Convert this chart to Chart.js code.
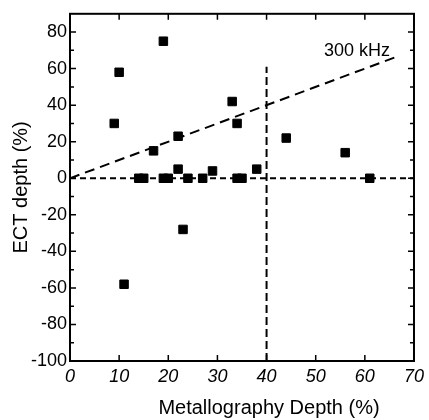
<!DOCTYPE html>
<html>
<head>
<meta charset="utf-8">
<script src="https://cdn.jsdelivr.net/npm/chart.js@4"></script>
<style>
  body { margin: 0; background: #fff; }
  #wrap { width: 429px; height: 420px; }
</style>
</head>
<body>
<div id="wrap"><canvas id="ectChart"></canvas></div>
<script>
// ECT depth vs metallography depth, 300 kHz

const metalDepth = [9, 10, 19, 17, 22, 22, 14, 15, 19, 20, 24, 27, 29, 33, 34, 34, 35, 38, 44, 56, 61, 11, 23];
const ectDepth   = [30, 58, 75, 15, 23, 5, 0, 0, 0, 0, 0, 0, 4, 42, 30, 0, 0, 5, 22, 14, 0, -58, -28];

// reference lines
const fitLineX = [0, 67];
const fitLineY = [0, 67];
const zeroLineX = [0, 70];
const zeroLineY = [0, 0];
const limitLineX = [40, 40];
const limitLineY = [-100, 61];

const xTicks = [0, 10, 20, 30, 40, 50, 60, 70];
const yTicks = [-100, -80, -60, -40, -20, 0, 20, 40, 60, 80];
const yMinorTicks = [-90, -70, -50, -30, -10, 10, 30, 50, 70];

const lineLabel = '300 kHz';
const xTitle = 'Metallography Depth (%)';
const yTitle = 'ECT depth (%)';

const FONT = '"Liberation Sans", Arial, sans-serif';

function toPoints(xs, ys) {
    return xs.map((x, i) => ({ x: x, y: ys[i] }));
}

// frame, inward ticks, line label and x title
const framePlugin = {
    id: 'frame',
    afterDraw(chart) {
        const ctx = chart.ctx;
        const a = chart.chartArea;
        const xs = chart.scales.x, ys = chart.scales.y;
        ctx.save();
        ctx.strokeStyle = '#000';
        ctx.lineWidth = 2;
        ctx.strokeRect(a.left, a.top, a.right - a.left, a.bottom - a.top);
        ctx.lineWidth = 1.5;
        ctx.beginPath();
        xTicks.forEach(v => {
            const px = xs.getPixelForValue(v);
            ctx.moveTo(px, a.bottom); ctx.lineTo(px, a.bottom - 6);
            ctx.moveTo(px, a.top); ctx.lineTo(px, a.top + 6);
        });
        yTicks.forEach(v => {
            const py = ys.getPixelForValue(v);
            ctx.moveTo(a.left, py); ctx.lineTo(a.left + 6, py);
            ctx.moveTo(a.right, py); ctx.lineTo(a.right - 6, py);
        });
        yMinorTicks.forEach(v => {
            const py = ys.getPixelForValue(v);
            ctx.moveTo(a.left, py); ctx.lineTo(a.left + 4, py);
            ctx.moveTo(a.right, py); ctx.lineTo(a.right - 4, py);
        });
        ctx.stroke();

        ctx.fillStyle = '#000';
        ctx.font = '18px ' + FONT;
        ctx.textAlign = 'center';
        ctx.textBaseline = 'middle';
        ctx.fillText(lineLabel, xs.getPixelForValue(58.4), ys.getPixelForValue(69.5));

        ctx.font = '20px ' + FONT;
        ctx.textBaseline = 'alphabetic';
        ctx.fillText(xTitle, 269, 414);
        ctx.restore();
    }
};

const dashed = (xs, ys, dash) => ({
    type: 'line',
    data: toPoints(xs, ys),
    borderColor: '#000',
    borderWidth: 2,
    borderDash: dash,
    pointRadius: 0,
    fill: false
});

new Chart(document.getElementById('ectChart'), {
    type: 'scatter',
    data: {
        datasets: [
            {
                data: toPoints(metalDepth, ectDepth),
                pointStyle: 'rect',
                pointRadius: 6,
                borderWidth: 1,
                backgroundColor: '#000',
                borderColor: '#000'
            },
            dashed(fitLineX, fitLineY, [10, 6]),
            dashed(zeroLineX, zeroLineY, [6, 4]),
            dashed(limitLineX, limitLineY, [8, 4])
        ]
    },
    options: {
        responsive: true,
        maintainAspectRatio: false,
        animation: false,
        layout: { padding: { left: 0, right: 14, top: 12, bottom: 0 } },
        plugins: {
            legend: { display: false },
            tooltip: { enabled: false }
        },
        scales: {
            x: {
                type: 'linear',
                min: 0,
                max: 70,
                afterFit(scale) { scale.height = 59; },
                afterBuildTicks(scale) { scale.ticks = xTicks.map(v => ({ value: v })); },
                grid: { display: false, drawTicks: false },
                border: { display: false },
                ticks: {
                    padding: 5,
                    color: '#000',
                    font: { family: FONT, size: 18, style: 'italic' }
                }
            },
            y: {
                type: 'linear',
                min: -100,
                max: 90,
                afterFit(scale) { scale.width = 70; },
                afterBuildTicks(scale) { scale.ticks = yTicks.map(v => ({ value: v })); },
                grid: { display: false, drawTicks: false },
                border: { display: false },
                ticks: {
                    padding: 3,
                    color: '#000',
                    font: { family: FONT, size: 18 }
                },
                title: {
                    display: true,
                    text: yTitle,
                    color: '#000',
                    padding: { top: 9, bottom: 0 },
                    font: { family: FONT, size: 20 }
                }
            }
        }
    },
    plugins: [framePlugin]
});
</script>
</body>
</html>
